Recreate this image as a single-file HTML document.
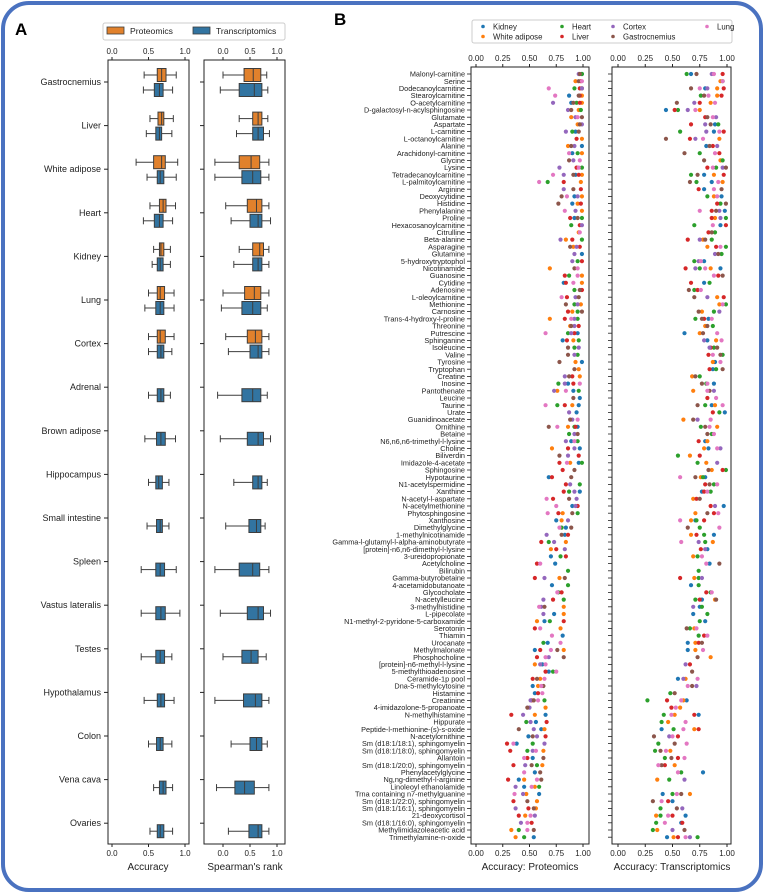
<!DOCTYPE html>
<html><head><meta charset="utf-8">
<style>
html,body{margin:0;padding:0;background:#fff;}
svg{display:block;font-family:"Liberation Sans",sans-serif;}
</style></head>
<body>
<svg id="c" width="764" height="893" viewBox="0 0 764 893" xmlns="http://www.w3.org/2000/svg">
<rect x="3" y="3" width="758" height="887" rx="26" fill="none" stroke="#4a72c0" stroke-width="4"/>
<text x="15" y="35" font-size="17" font-weight="bold">A</text>
<text x="334" y="25" font-size="17" font-weight="bold">B</text>
</svg>
<script>
// ---------- Panel A data ----------
const tissuesA = ["Gastrocnemius","Liver","White adipose","Heart","Kidney","Lung","Cortex","Adrenal","Brown adipose","Hippocampus","Small intestine","Spleen","Vastus lateralis","Testes","Hypothalamus","Colon","Vena cava","Ovaries"];
const accProt = [[.44,.62,.68,.74,.88],[.52,.63,.68,.71,.84],[.33,.57,.68,.73,.90],[.52,.65,.70,.74,.87],[.57,.65,.67,.71,.80],[.50,.62,.66,.72,.85],[.50,.62,.66,.73,.85],null,null,null,null,null,null,null,null,null,null,null];
const accTrans = [[.43,.58,.65,.70,.83],[.47,.60,.65,.68,.82],[.48,.62,.66,.71,.88],[.43,.58,.65,.70,.83],[.55,.62,.66,.70,.80],[.45,.60,.66,.71,.85],[.50,.62,.67,.71,.82],[.50,.62,.67,.71,.80],[.45,.61,.67,.73,.87],[.50,.60,.64,.69,.78],[.48,.61,.66,.69,.78],[.40,.60,.66,.72,.88],[.40,.60,.67,.73,.93],[.40,.60,.66,.72,.82],[.44,.62,.67,.72,.85],[.50,.61,.66,.70,.82],[.57,.65,.70,.74,.83],[.52,.62,.66,.71,.83]];
const spProt = [[0,.39,.56,.70,.81],[.30,.55,.65,.72,.83],[-.15,.30,.52,.68,.85],[.05,.45,.62,.72,.85],[.30,.55,.68,.75,.85],[0,.40,.58,.70,.85],[.05,.45,.60,.72,.85],null,null,null,null,null,null,null,null,null,null,null];
const spTrans = [[-.05,.30,.58,.72,.83],[.25,.55,.65,.75,.86],[-.15,.35,.55,.70,.85],[.15,.50,.65,.72,.88],[.20,.55,.65,.72,.85],[-.03,.35,.55,.70,.82],[.10,.50,.65,.72,.85],[-.10,.35,.55,.70,.82],[-.05,.45,.65,.75,.88],[.20,.55,.65,.72,.82],[.05,.48,.62,.70,.78],[-.15,.30,.55,.68,.85],[-.05,.45,.65,.75,.88],[0,.35,.52,.65,.80],[-.15,.38,.60,.72,.85],[.15,.50,.62,.72,.82],[-.12,.22,.40,.58,.85],[.10,.48,.65,.72,.85]];
const ticksA = [0,0.5,1];
const ticksB = [0,0.25,0.5,0.75,1];
// ---------- Panel B data ----------
const metabolites = ["Malonyl-carnitine","Serine","Dodecanoylcarnitine","Stearoylcarnitine","O-acetylcarnitine","D-galactosyl-n-acylsphingosine","Glutamate","Aspartate","L-carnitine","L-octanoylcarnitine","Alanine","Arachidonyl-carnitine","Glycine","Lysine","Tetradecanoylcarnitine","L-palmitoylcarnitine","Arginine","Deoxycytidine","Histidine","Phenylalanine","Proline","Hexacosanoylcarnitine","Citrulline","Beta-alanine","Asparagine","Glutamine","5-hydroxytryptophol","Nicotinamide","Guanosine","Cytidine","Adenosine","L-oleoylcarnitine","Methionine","Carnosine","Trans-4-hydroxy-l-proline","Threonine","Putrescine","Sphinganine","Isoleucine","Valine","Tyrosine","Tryptophan","Creatine","Inosine","Pantothenate","Leucine","Taurine","Urate","Guanidinoacetate","Ornithine","Betaine","N6,n6,n6-trimethyl-l-lysine","Choline","Biliverdin","Imidazole-4-acetate","Sphingosine","Hypotaurine","N1-acetylspermidine","Xanthine","N-acetyl-l-aspartate","N-acetylmethionine","Phytosphingosine","Xanthosine","Dimethylglycine","1-methylnicotinamide","Gamma-l-glutamyl-l-alpha-aminobutyrate","[protein]-n6,n6-dimethyl-l-lysine","3-ureidopropionate","Acetylcholine","Bilirubin","Gamma-butyrobetaine","4-acetamidobutanoate","Glycocholate","N-acetylleucine","3-methylhistidine","L-pipecolate","N1-methyl-2-pyridone-5-carboxamide","Serotonin","Thiamin","Urocanate","Methylmalonate","Phosphocholine","[protein]-n6-methyl-l-lysine","5-methylthioadenosine","Ceramide-1p pool","Dna-5-methylcytosine","Histamine","Creatinine","4-imidazolone-5-propanoate","N-methylhistamine","Hippurate","Peptide-l-methionine-(s)-s-oxide","N-acetylornithine","Sm (d18:1/18:1), sphingomyelin","Sm (d18:1/18:0), sphingomyelin","Allantoin","Sm (d18:1/20:0), sphingomyelin","Phenylacetylglycine","Ng,ng-dimethyl-l-arginine","Linoleoyl ethanolamide","Trna containing n7-methylguanine","Sm (d18:1/22:0), sphingomyelin","Sm (d18:1/16:1), sphingomyelin","21-deoxycortisol","Sm (d18:1/16:0), sphingomyelin","Methylimidazoleacetic acid","Trimethylamine-n-oxide"];
const tissuesB = ["Kidney","White adipose","Heart","Liver","Cortex","Gastrocnemius","Lung"];
const tissueColors = ["#1f77b4","#ff7f0e","#2ca02c","#d62728","#9467bd","#8c564b","#e377c2"];
// values x100, order: Kidney, White adipose, Heart, Liver, Cortex, Gastrocnemius, Lung (0 = missing)
const protVals = ["99 0 99 0 96 97 0","0 93 0 98 0 96 99","99 99 92 97 99 0 68","87 99 0 97 0 96 74","89 99 94 97 72 91 0","0 96 98 0 86 89 0","0 89 0 0 93 99 95","0 95 0 0 99 97 0","93 0 90 0 84 96 0","0 99 0 94 0 0 0","99 86 0 0 92 89 0","90 99 95 0 0 0 87","0 0 0 0 91 87 97","0 0 99 94 78 0 96","93 99 0 96 82 91 72","0 98 67 82 0 0 59","0 0 0 98 82 91 0","92 99 0 0 95 80 85","90 95 0 98 0 77 0","0 99 0 0 93 0 83","92 0 99 88 0 95 0","0 0 89 97 99 0 0","0 96 0 0 0 0 97","0 84 99 90 79 0 0","0 91 0 97 94 88 0","99 0 0 0 92 0 0","0 0 95 99 90 0 0","0 69 0 0 0 92 95","0 99 87 83 0 0 95","82 99 0 84 0 0 91","0 0 92 99 0 97 0","0 0 0 85 93 96 80","0 98 92 0 95 84 0","0 90 95 86 0 99 0","0 69 95 83 92 0 89","0 88 0 96 92 89 0","95 0 86 92 89 0 65","81 91 96 85 0 0 0","0 0 92 0 96 86 0","0 0 95 0 92 86 0","99 93 0 0 0 78 0","0 96 0 0 0 92 0","0 97 0 90 83 87 0","86 0 77 91 83 0 97","91 76 96 0 73 0 84","97 0 0 0 0 91 0","96 90 76 83 0 0 65","94 0 0 0 87 0 0","0 0 0 0 90 88 95","95 86 92 93 0 68 76","0 0 87 0 92 95 0","89 0 95 0 84 0 92","97 71 0 86 92 0 0","0 0 0 96 86 78 0","96 88 99 78 0 0 85","0 0 0 81 0 92 0","68 0 0 71 0 89 0","0 0 97 84 88 0 0","97 0 87 82 92 0 0","0 0 0 72 94 87 66","90 0 0 95 93 0 75","0 81 95 77 0 90 67","75 80 0 0 86 0 0","84 0 80 0 0 89 78","83 0 0 86 66 80 0","0 84 68 61 73 0 0","0 70 0 75 83 0 0","70 0 79 84 0 0 0","74 0 0 57 0 0 60","0 0 86 0 0 0 0","0 78 0 55 64 83 0","71 0 86 0 0 0 0","0 0 77 80 0 0 76","0 0 82 72 63 0 0","0 82 0 0 61 64 59","73 82 0 0 63 0 0","64 57 69 82 0 0 0","0 79 0 55 0 0 60","81 0 0 0 0 0 71","67 0 63 0 0 0 79","55 82 0 60 0 76 70","0 0 0 57 68 82 65","62 55 0 0 60 0 65","68 0 72 65 0 0 75","0 60 0 53 0 57 64","53 58 0 0 0 63 61","55 0 0 58 0 0 62","0 0 64 52 51 54 58","0 65 0 0 50 48 0","65 55 0 33 44 0 0","56 0 47 66 51 0 0","61 64 0 0 54 40 0","49 0 0 65 57 53 0","38 0 53 29 64 0 35","0 63 48 32 53 0 56","53 0 0 48 0 63 45","0 62 57 35 46 52 0","55 0 0 0 0 60 45","40 45 0 30 0 61 57","45 55 59 0 37 0 52","59 47 0 0 44 0 36","0 57 0 35 0 48 0","0 56 0 49 37 54 0","0 46 0 40 55 0 51","0 0 0 52 42 0 48","0 33 40 0 0 54 48","54 37 45 0 0 0 0"];
const transVals = ["67 0 63 96 86 72 88","0 94 96 0 0 0 96","80 91 0 97 82 67 75","0 91 76 95 0 79 83","0 85 0 75 70 54 89","44 75 55 52 64 0 71","0 0 0 80 90 82 87","89 0 92 67 80 85 0","88 0 57 97 81 0 93","0 93 0 66 71 44 78","81 0 0 87 91 84 0","0 0 75 93 0 61 89","0 94 96 0 0 79 0","0 0 90 82 96 99 87","79 88 67 97 0 73 0","86 96 72 0 0 66 92","79 0 0 74 0 95 88","95 88 82 0 0 0 91","0 0 94 91 0 99 0","98 0 0 86 93 90 75","0 89 99 86 94 0 0","94 0 70 99 0 0 87","0 0 89 83 0 86 0","0 78 86 64 75 80 0","0 82 99 90 0 0 94","0 0 95 0 89 92 0","79 0 70 0 74 0 76","94 85 75 62 71 0 80","0 0 0 92 0 96 88","79 0 84 67 0 0 0","0 0 70 73 0 65 76","0 91 0 97 82 70 0","0 93 99 0 0 0 96","0 77 88 0 93 74 0","83 0 71 79 0 77 86","0 80 87 0 0 82 0","61 75 0 0 0 78 91","82 90 0 0 79 0 95","0 0 88 85 84 91 0","0 0 96 83 0 94 87","89 87 0 0 0 0 94","87 0 90 84 0 96 0","0 68 75 0 0 71 0","88 0 81 0 0 77 82","0 69 0 0 88 84 82","0 0 0 82 0 0 90","86 89 80 0 0 73 96","98 0 93 87 0 0 0","0 60 0 0 73 69 85","0 91 76 0 0 80 84","0 0 86 0 0 82 88","80 82 0 74 0 0 0","83 79 0 0 94 0 91","0 66 55 75 0 0 0","0 81 73 0 91 0 0","0 86 99 96 0 83 0","80 76 78 0 0 71 57","0 0 88 80 0 84 91","77 0 85 79 0 0 82","0 69 0 72 0 75 0","97 0 0 85 89 0 0","0 71 0 88 0 82 92","71 67 72 79 0 0 57","0 0 75 0 0 64 93","88 67 79 72 0 0 0","0 87 80 0 74 0 58","82 0 0 76 80 0 0","0 69 73 0 0 0 77","84 0 0 0 0 93 81","0 0 74 0 0 0 0","0 70 74 57 77 0 0","67 0 74 0 0 0 0","0 0 85 81 0 0 86","77 89 71 75 0 90 0","75 0 77 0 69 0 0","69 0 82 0 0 0 0","80 0 75 0 0 0 0","0 70 66 0 0 63 72","0 0 74 79 0 0 82","64 71 0 74 0 77 0","64 71 0 0 0 0 78","0 85 0 0 0 73 0","0 0 0 66 62 0 0","0 0 0 0 0 68 0","55 62 0 0 60 0 73","0 0 0 0 72 68 64","0 0 48 0 0 52 0","63 60 27 45 0 0 58","0 57 0 49 0 0 53","74 52 42 70 0 0 49","0 46 40 0 0 0 62","40 70 51 74 0 0 60","0 0 0 55 47 33 50","0 0 37 0 0 52 63","0 48 34 0 0 39 44","0 0 43 55 0 49 61","0 52 0 43 0 40 37","78 0 58 0 0 0 55","0 36 47 0 61 0 0","0 0 0 0 0 0 0","41 66 50 0 0 58 54","50 0 0 46 0 32 40","0 0 39 0 59 54 0","62 35 39 50 0 0 46","58 0 35 59 0 0 43","0 36 32 0 50 61 0","45 51 73 55 66 0 62"];

const svg = document.getElementById('c');
const NS = "http://www.w3.org/2000/svg";
function mk(tag, attrs, parent){const e=document.createElementNS(NS,tag);for(const k in attrs)e.setAttribute(k,attrs[k]);(parent||svg).appendChild(e);return e;}

// axis functions
const xA = v => 112 + v*73;
const xS = v => 223 + v*54;
const yA = i => 82 + i*43.6;
const xP = v => 476 + v*107;
const xT = v => 618 + v*109;
const yB = i => 74 + i*7.2;
const AX_TOP = 60, AX_BOT = 844, BX_TOP = 67;

// ---------- Panel A ----------
function frame(x0,x1,y0,y1,name){
  const r = mk('rect',{x:x0,y:y0,width:x1-x0,height:y1-y0,fill:'none',stroke:'#222','stroke-width':1});
  
  
}
frame(108,189,AX_TOP,AX_BOT,'accuracy-axes-frame');
frame(204,285,AX_TOP,AX_BOT,'spearman-axes-frame');

function xticks(fx, vals, fmt, yTop, yBot, name){
  vals.forEach(v=>{
    const x = fx(v);
    mk('line',{x1:x,x2:x,y1:yTop,y2:yTop-3,stroke:'#222'});
    mk('line',{x1:x,x2:x,y1:yBot,y2:yBot+3,stroke:'#222'});
    const t1 = mk('text',{x:x,y:yTop-6,'font-size':8,'text-anchor':'middle',fill:'#222'});
    t1.textContent = fmt(v);
    
    
    const t2 = mk('text',{x:x,y:yBot+12,'font-size':8,'text-anchor':'middle',fill:'#222'});
    t2.textContent = fmt(v);
    
    
  });
}
xticks(xA, ticksA, v=>v.toFixed(1), AX_TOP, AX_BOT, 'accuracy');
xticks(xS, ticksA, v=>v.toFixed(1), AX_TOP, AX_BOT, 'spearman');

function boxplot(fx, d, yc, fill, name){
  const g = mk('g',{});
  
  
  const h = 13, c='#3d3d3d';
  mk('line',{x1:fx(d[0]),x2:fx(d[1]),y1:yc,y2:yc,stroke:c,'stroke-width':1},g);
  mk('line',{x1:fx(d[3]),x2:fx(d[4]),y1:yc,y2:yc,stroke:c,'stroke-width':1},g);
  mk('line',{x1:fx(d[0]),x2:fx(d[0]),y1:yc-3.5,y2:yc+3.5,stroke:c},g);
  mk('line',{x1:fx(d[4]),x2:fx(d[4]),y1:yc-3.5,y2:yc+3.5,stroke:c},g);
  mk('rect',{x:fx(d[1]),y:yc-h/2,width:fx(d[3])-fx(d[1]),height:h,fill:fill,stroke:c,'stroke-width':1},g);
  mk('line',{x1:fx(d[2]),x2:fx(d[2]),y1:yc-h/2,y2:yc+h/2,stroke:c,'stroke-width':1},g);
}
tissuesA.forEach((t,i)=>{
  const y = yA(i);
  mk('line',{x1:104,x2:108,y1:y,y2:y,stroke:'#222'});
  mk('line',{x1:200,x2:204,y1:y,y2:y,stroke:'#222'});
  const lab = mk('text',{x:101,y:y+3,'font-size':9,'text-anchor':'end',fill:'#222'});
  lab.textContent = t;
  
  
  if(accProt[i]) boxplot(xA, accProt[i], y-7, '#e1812c', 'accuracy-proteomics-box');
  boxplot(xA, accTrans[i], y+8, '#3274a1', 'accuracy-transcriptomics-box');
  if(spProt[i]) boxplot(xS, spProt[i], y-7, '#e1812c', 'spearman-proteomics-box');
  boxplot(xS, spTrans[i], y+8, '#3274a1', 'spearman-transcriptomics-box');
});
let t;
t = mk('text',{x:148,y:870,'font-size':10,'text-anchor':'middle',fill:'#222'}); t.textContent='Accuracy';
 
t = mk('text',{x:245,y:870,'font-size':10,'text-anchor':'middle',fill:'#222'}); t.textContent="Spearman's rank";
 

// legend A
const lgA = mk('g',{});


mk('rect',{x:103,y:23,width:182,height:17,rx:2,fill:'#fff',stroke:'#ccc'},lgA);
mk('rect',{x:107,y:27,width:17,height:7,fill:'#e1812c',stroke:'#3d3d3d','stroke-width':0.8},lgA);
t = mk('text',{x:130,y:34,'font-size':8.6,fill:'#222'},lgA); t.textContent='Proteomics';
 
mk('rect',{x:193,y:27,width:17,height:7,fill:'#3274a1',stroke:'#3d3d3d','stroke-width':0.8},lgA);
t = mk('text',{x:216,y:34,'font-size':8.6,fill:'#222'},lgA); t.textContent='Transcriptomics';
 

// ---------- Panel B ----------
frame(471,589,BX_TOP,AX_BOT,'proteomics-dot-axes-frame');
frame(612,731,BX_TOP,AX_BOT,'transcriptomics-dot-axes-frame');
xticks(xP, ticksB, v=>v.toFixed(2), BX_TOP, AX_BOT, 'proteomics');
xticks(xT, ticksB, v=>v.toFixed(2), BX_TOP, AX_BOT, 'transcriptomics');

function dots(rowStr, fx, y, name){
  rowStr.split(' ').map(Number).forEach((v,k)=>{
    if(!v) return;
    const c = mk('circle',{cx:fx(v/100),cy:y,r:2.1,fill:tissueColors[k]});
    
    
  });
}
metabolites.forEach((m,i)=>{
  const y = yB(i);
  mk('line',{x1:467,x2:471,y1:y,y2:y,stroke:'#222','stroke-width':0.8});
  mk('line',{x1:608,x2:612,y1:y,y2:y,stroke:'#222','stroke-width':0.8});
  const lab = mk('text',{x:465,y:y+2.6,'font-size':7.3,'text-anchor':'end',fill:'#222'});
  lab.textContent = m;
  
  
  dots(protVals[i], xP, y, 'proteomics');
  dots(transVals[i], xT, y, 'transcriptomics');
});
t = mk('text',{x:530,y:870,'font-size':10,'text-anchor':'middle',fill:'#222'}); t.textContent='Accuracy: Proteomics';
 
t = mk('text',{x:672,y:870,'font-size':10,'text-anchor':'middle',fill:'#222'}); t.textContent='Accuracy: Transcriptomics';
 

// legend B
const lgB = mk('g',{});


mk('rect',{x:472,y:20,width:260,height:23,rx:2,fill:'#fff',stroke:'#ccc'},lgB);
const legX = [483,562,613,707], legY = [26.5,36.5];
const legPos = [[0,0],[0,1],[1,0],[1,1],[2,0],[2,1],[3,0]];
tissuesB.forEach((tn,k)=>{
  const [cx,ry] = legPos[k];
  mk('circle',{cx:legX[cx],cy:legY[ry],r:1.8,fill:tissueColors[k]},lgB);
  const tt = mk('text',{x:legX[cx]+10,y:legY[ry]+3,'font-size':7.8,fill:'#222'},lgB);
  tt.textContent = tn;
  
  
});
</script>
</body></html>
